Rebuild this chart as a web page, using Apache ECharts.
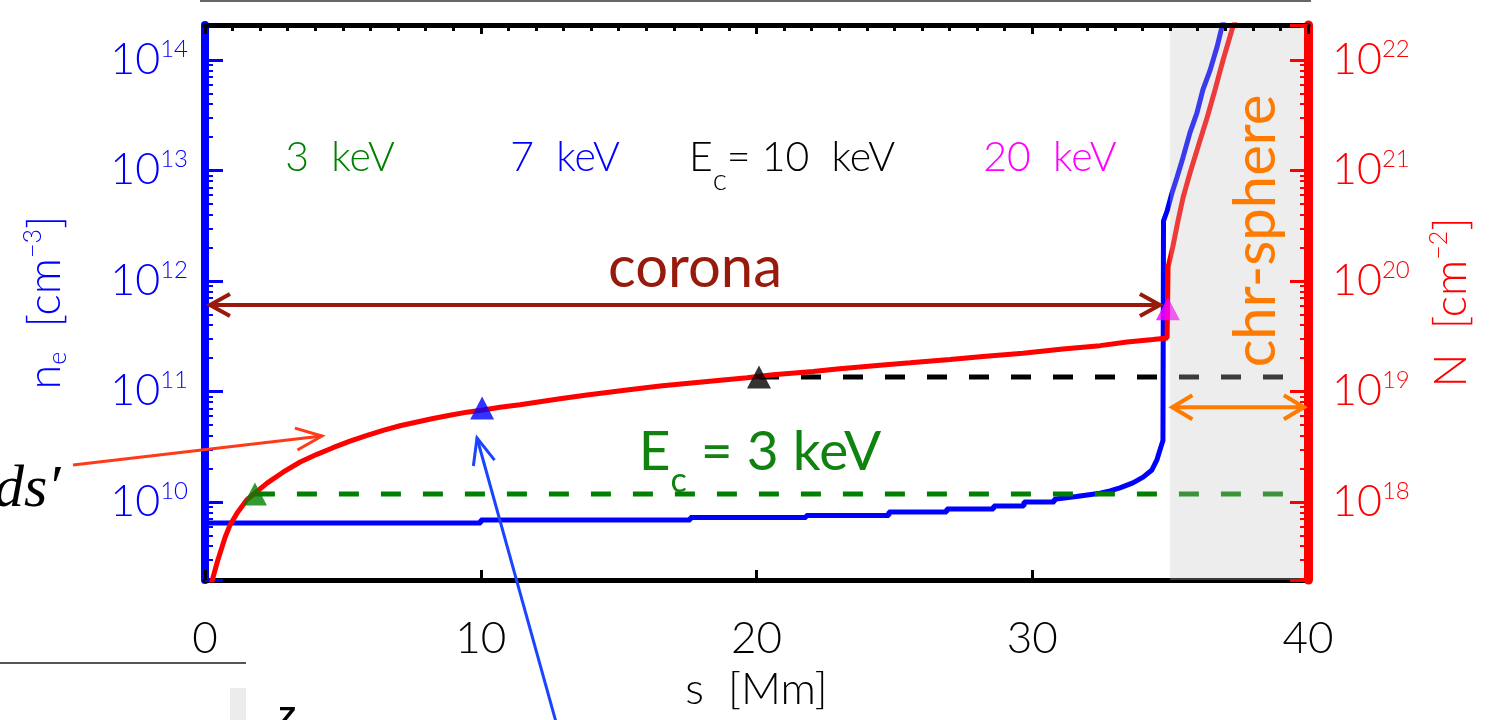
<!DOCTYPE html>
<html>
<head>
<meta charset="utf-8">
<script src="https://cdn.jsdelivr.net/npm/echarts@6/dist/echarts.min.js"></script>
<style>
  html, body { margin: 0; padding: 0; background: #ffffff; }
  #chart { width: 1500px; height: 720px; }
</style>
</head>
<body>
<div id="chart"></div>
<script>
// ---- data -------------------------------------------------------------
// position along the loop, s [Mm]
const sTicks = [0, 10, 20, 30, 40];

// electron density n_e [cm^-3] (left axis)
const densityS = [0, 10.0, 10.0, 17.6, 17.6, 21.8, 21.8, 24.8, 24.8, 26.9, 26.9, 28.6, 28.6,
  29.7, 29.7, 30.8, 30.8, 31.6, 32.46, 32.82, 33.18, 33.65, 34.02, 34.34, 34.52, 34.63, 34.74,
  34.76, 34.89, 35.07, 35.25, 35.47, 35.72, 35.97, 36.19, 36.45, 36.7, 36.88, 36.97];
const densityN = [6.46e9, 6.46e9, 6.87e9, 6.87e9, 7.24e9, 7.24e9, 7.55e9, 7.55e9, 8.13e9, 8.13e9,
  8.65e9, 8.65e9, 9.2e9, 9.2e9, 1.0e10, 1.0e10, 1.06e10, 1.12e10, 1.2e10, 1.26e10, 1.34e10,
  1.49e10, 1.68e10, 1.95e10, 2.4e10, 2.95e10, 3.6e10, 3.5e12, 4.3e12, 6.3e12, 8.7e12, 1.32e13,
  2.2e13, 3.3e13, 5.4e13, 8.1e13, 1.31e14, 2.0e14, 2.4e14];

// column depth N [cm^-2] (right axis)
const columnS = [0.22, 0.47, 0.73, 0.91, 1.16, 1.52, 1.81, 2.25, 2.83, 3.45, 4.06, 4.64, 5.26,
  5.88, 6.46, 7.07, 7.69, 8.27, 8.88, 9.5, 10.08, 10.7, 11.42, 12.87, 13.85, 15.3, 16.5, 18.31,
  19.66, 20.6, 22.05, 22.92, 24.37, 25.57, 27.02, 28.21, 29.66, 31.11, 32.46, 33.44, 34.38,
  34.89, 34.93, 35.1, 35.29, 35.47, 35.72, 36.01, 36.34, 36.63, 36.92, 37.24, 37.4];
const columnN = [1.8e17, 3.0e17, 4.8e17, 6.2e17, 7.9e17, 1.05e18, 1.2e18, 1.48e18, 1.86e18,
  2.3e18, 2.7e18, 3.1e18, 3.55e18, 4.0e18, 4.45e18, 4.9e18, 5.3e18, 5.7e18, 6.1e18, 6.5e18,
  6.8e18, 7.2e18, 7.6e18, 8.6e18, 9.3e18, 1.03e19, 1.12e19, 1.24e19, 1.33e19, 1.42e19, 1.52e19,
  1.6e19, 1.72e19, 1.82e19, 1.95e19, 2.07e19, 2.22e19, 2.42e19, 2.6e19, 2.8e19, 2.95e19,
  3.05e19, 1.35e20, 2.05e20, 3.55e20, 5.7e20, 9.5e20, 1.63e21, 3.0e21, 5.4e21, 1.0e22,
  1.87e22, 2.4e22];

// stopping depth reached by electrons of each cutoff energy
const stopLabels = ['3  keV', '7  keV', '10  keV', '20  keV'];
const stopS = [1.81, 10.05, 20.09, 34.92];
const stopN = [1.18e18, 7.1e18, 1.35e19, 5.6e19];

// chromosphere extent [Mm]
const chromoRange = [35, 40];

// axis ranges (log10 of the limits)
const neLogRange = [9.294, 14.3167];
const colLogRange = [17.294, 22.3167];

// ---- styles -----------------------------------------------------------
const stopColors = ['#008000', '#0000ff', '#000000', '#ff00ff'];
const plotFont = 'Lato';
const slideFont = 'Lato';

const zip = (xs, ys) => xs.map((x, i) => [x, ys[i]]);

function powerLabel(v) {
  const e = Math.log10(v);
  const r = Math.round(e);
  if (Math.abs(e - r) > 1e-6) return '';
  return '{b|10}{e|' + r + '}';
}
function powerRich(color) {
  return {
    b: { fontSize: 43, lineHeight: 46, color: color, fontFamily: plotFont, fontWeight: 300, verticalAlign: 'middle' },
    e: { fontSize: 24, lineHeight: 22, color: color, fontFamily: plotFont, fontWeight: 300, verticalAlign: 'top' }
  };
}
function nameRich(color) {
  return {
    a: { fontSize: 45, lineHeight: 50, color: color, fontFamily: plotFont, fontWeight: 300, verticalAlign: 'middle' },
    sub: { fontSize: 25, lineHeight: 32, color: color, fontFamily: plotFont, fontWeight: 300, verticalAlign: 'bottom' },
    sup: { fontSize: 25, lineHeight: 26, color: color, fontFamily: plotFont, fontWeight: 300, verticalAlign: 'top' }
  };
}

const chart = echarts.init(document.getElementById('chart'), null, { renderer: 'canvas' });

const stopItems = stopS.map((s, i) => ({
  value: [s, stopN[i]],
  itemStyle: { color: stopColors[i] }
}));

const option = {
  animation: false,
  backgroundColor: '#ffffff',
  grid: { left: 205, right: 192, top: 25, bottom: 140, containLabel: false },
  xAxis: [
    {
      type: 'value', position: 'bottom', min: sTicks[0], max: sTicks[sTicks.length - 1], interval: 10,
      axisLine: { onZero: false, lineStyle: { color: '#000', width: 5 } },
      axisTick: { inside: true, length: 10, lineStyle: { color: '#000', width: 3 } },
      splitLine: { show: false },
      axisLabel: { margin: 37, fontSize: 44, color: '#000', fontFamily: plotFont, fontWeight: 300 },
      name: 's  [Mm]', nameLocation: 'middle', nameGap: 88,
      nameTextStyle: { fontSize: 44, color: '#000', fontFamily: plotFont, fontWeight: 300 }
    },
    {
      type: 'value', position: 'top', min: sTicks[0], max: sTicks[sTicks.length - 1], interval: 10, z: 10,
      axisLine: { onZero: false, lineStyle: { color: '#000', width: 5 } },
      axisTick: { inside: true, length: 9, lineStyle: { color: '#000', width: 3 } },
      minorTick: { show: true, splitNumber: 10, length: 6, lineStyle: { color: '#000', width: 3 } },
      splitLine: { show: false },
      axisLabel: { show: false }
    }
  ],
  yAxis: [
    {
      type: 'log', logBase: 10, position: 'left',
      min: Math.pow(10, neLogRange[0]), max: Math.pow(10, neLogRange[1]),
      axisLine: { onZero: false, lineStyle: { color: '#0000ff', width: 8 } },
      axisTick: { inside: true, length: 18, lineStyle: { color: '#0000ff', width: 3 } },
      minorTick: { show: true, splitNumber: 9, length: 8, lineStyle: { color: '#0000ff', width: 2 } },
      splitLine: { show: false },
      axisLabel: { margin: 17, formatter: powerLabel, rich: powerRich('#0000ff'), showMinLabel: false, showMaxLabel: false },
      name: '{a|n}{sub|e}{a|  [cm}{sup|−3}{a|]}', nameLocation: 'middle', nameRotate: 90, nameGap: 135,
      nameTextStyle: { rich: nameRich('#0000ff') }
    },
    {
      type: 'log', logBase: 10, position: 'right', z: 10,
      min: Math.pow(10, colLogRange[0]), max: Math.pow(10, colLogRange[1]),
      axisLine: { onZero: false, lineStyle: { color: '#ff0000', width: 9 } },
      axisTick: { inside: true, length: 18, lineStyle: { color: '#ff0000', width: 3 } },
      minorTick: { show: true, splitNumber: 9, length: 8, lineStyle: { color: '#ff0000', width: 2 } },
      splitLine: { show: false },
      axisLabel: { margin: 24, formatter: powerLabel, rich: powerRich('#ff0000'), showMinLabel: false, showMaxLabel: false },
      name: '{a|N  [cm}{sup|−2}{a|]}', nameLocation: 'middle', nameRotate: 90, nameGap: 118,
      nameTextStyle: { rich: nameRich('#ff0000') }
    }
  ],
  series: [
    {
      name: 'n_e', type: 'line', xAxisIndex: 0, yAxisIndex: 0, z: 2,
      data: zip(densityS, densityN), showSymbol: false, symbol: 'none',
      lineStyle: { color: '#0000ff', width: 5 }
    },
    {
      name: 'N', type: 'line', xAxisIndex: 0, yAxisIndex: 1, z: 3,
      data: zip(columnS, columnN), showSymbol: false, symbol: 'none',
      lineStyle: { color: '#ff0000', width: 5 }
    },
    {
      name: 'stop 3 keV', type: 'line', xAxisIndex: 0, yAxisIndex: 1, z: 2,
      data: [[stopS[0], stopN[0]], [sTicks[sTicks.length - 1], stopN[0]]], symbol: 'none',
      lineStyle: { color: stopColors[0], width: 5, type: [20, 22] }
    },
    {
      name: 'stop 10 keV', type: 'line', xAxisIndex: 0, yAxisIndex: 1, z: 2,
      data: [[stopS[2], stopN[2]], [sTicks[sTicks.length - 1], stopN[2]]], symbol: 'none',
      lineStyle: { color: stopColors[2], width: 5, type: [20, 22] }
    },
    {
      name: 'stopping depth', type: 'scatter', xAxisIndex: 0, yAxisIndex: 1, z: 4,
      symbol: 'triangle', symbolSize: [24, 23], data: stopItems
    },
    {
      // chromosphere shading, laid over the curves
      name: 'chromosphere', type: 'line', xAxisIndex: 0, yAxisIndex: 1, z: 6,
      data: [[chromoRange[0], Math.pow(10, colLogRange[1])], [chromoRange[1], Math.pow(10, colLogRange[1])]],
      symbol: 'none', lineStyle: { width: 0 },
      areaStyle: { origin: 'start', color: 'rgba(197,197,197,0.43)' }
    }
  ]
};

chart.setOption(option);

// ---- annotations ------------------------------------------------------
function toPx(s, v, yIdx) {
  return chart.convertToPixel({ xAxisIndex: 0, yAxisIndex: yIdx }, [s, v]);
}
function chevron(tip, from, len, half, color, width) {
  const dx = tip[0] - from[0], dy = tip[1] - from[1];
  const d = Math.hypot(dx, dy);
  const ux = dx / d, uy = dy / d, nx = -uy, ny = ux;
  const bx = tip[0] - ux * len, by = tip[1] - uy * len;
  return {
    type: 'polyline', silent: true, z: 20,
    shape: { points: [[bx + nx * half, by + ny * half], tip, [bx - nx * half, by - ny * half]] },
    style: { stroke: color, lineWidth: width, fill: null, lineJoin: 'miter' }
  };
}
function arrow(a, b, color, width, len, half, both) {
  const els = [{
    type: 'line', silent: true, z: 20,
    shape: { x1: a[0], y1: a[1], x2: b[0], y2: b[1] },
    style: { stroke: color, lineWidth: width }
  }, chevron(b, a, len, half, color, width)];
  if (both) els.push(chevron(a, b, len, half, color, width));
  return els;
}

const coronaColor = '#981a0c';
const chromoColor = '#ff7a00';
const greenText = '#0f820f';

const coronaL = toPx(0.18, 6.07e11, 0), coronaR = toPx(34.63, 6.07e11, 0);
const chromoL = toPx(35.08, 7.2e10, 0), chromoR = toPx(39.85, 7.2e10, 0);

const energyLabelStyle = { align: 'center', verticalAlign: 'middle', fontSize: 41, fontFamily: plotFont, fontWeight: 300 };

const graphics = [
  // page rules and fragments around the figure
  { type: 'line', silent: true, shape: { x1: 200, y1: 1, x2: 1311, y2: 1 }, style: { stroke: '#666', lineWidth: 2 } },
  { type: 'line', silent: true, shape: { x1: 0, y1: 663, x2: 246, y2: 663 }, style: { stroke: '#555', lineWidth: 2 } },
  { type: 'rect', silent: true, shape: { x: 230, y: 688, width: 16, height: 32 }, style: { fill: '#ececec' } },
  { type: 'text', silent: true, style: { x: 278, y: 704, text: 'Z', fontSize: 30, fontWeight: 'bold', fontFamily: 'Liberation Sans', fill: '#000' } },
  { type: 'text', silent: true, style: { x: -6, y: 490, text: 'ds′', fontSize: 60, fontStyle: 'italic', fontFamily: 'Liberation Serif', fill: '#000', verticalAlign: 'middle' } },

  // energy labels
  { type: 'text', silent: true, z: 20, style: Object.assign({ x: 340, y: 158, text: stopLabels[0], fill: stopColors[0] }, energyLabelStyle) },
  { type: 'text', silent: true, z: 20, style: Object.assign({ x: 565, y: 158, text: stopLabels[1], fill: stopColors[1] }, energyLabelStyle) },
  { type: 'text', silent: true, z: 20, style: {
      x: 792, y: 158, text: '{a|E}{s|c}{a|= ' + stopLabels[2] + '}', align: 'center', verticalAlign: 'middle',
      rich: {
        a: { fontSize: 41, lineHeight: 46, fontFamily: plotFont, fontWeight: 300, fill: '#000', verticalAlign: 'middle' },
        s: { fontSize: 30, lineHeight: 30, fontFamily: plotFont, fontWeight: 300, fill: '#000', verticalAlign: 'bottom', padding: [0, 0, -14, 0] }
      } } },
  { type: 'text', silent: true, z: 20, style: Object.assign({ x: 1050, y: 158, text: stopLabels[3], fill: stopColors[3] }, energyLabelStyle) },

  // region labels
  { type: 'text', silent: true, z: 20, style: { x: 695, y: 268, text: 'corona', align: 'center', verticalAlign: 'middle', fontSize: 58, fontFamily: slideFont, fill: coronaColor } },
  { type: 'text', silent: true, z: 20, style: {
      x: 760, y: 452, text: '{a|E}{s|c}{a| = 3 keV}', align: 'center', verticalAlign: 'middle',
      rich: {
        a: { fontSize: 55, lineHeight: 60, fontFamily: slideFont, fill: greenText, verticalAlign: 'middle' },
        s: { fontSize: 34, lineHeight: 36, fontFamily: slideFont, fill: greenText, verticalAlign: 'bottom', padding: [0, 0, -16, 0] }
      } } },
  { type: 'text', silent: true, z: 20, x: 1256, y: 231, rotation: Math.PI / 2,
    style: { x: 0, y: 0, text: 'chr-sphere', align: 'center', verticalAlign: 'middle', fontSize: 58, fontFamily: slideFont, fill: chromoColor } }
];

arrow(coronaL, coronaR, coronaColor, 4, 20, 11, true).forEach(e => graphics.push(e));
arrow(chromoL, chromoR, chromoColor, 4, 20, 12, true).forEach(e => graphics.push(e));
// pointers coming in from outside the frame
arrow([73, 465], [322, 436], '#ff3a18', 3, 26, 11, false).forEach(e => graphics.push(e));
arrow([556, 722], [477, 438], '#1a44ff', 3, 26, 11, false).forEach(e => graphics.push(e));

chart.setOption({ graphic: graphics });
</script>
</body>
</html>
